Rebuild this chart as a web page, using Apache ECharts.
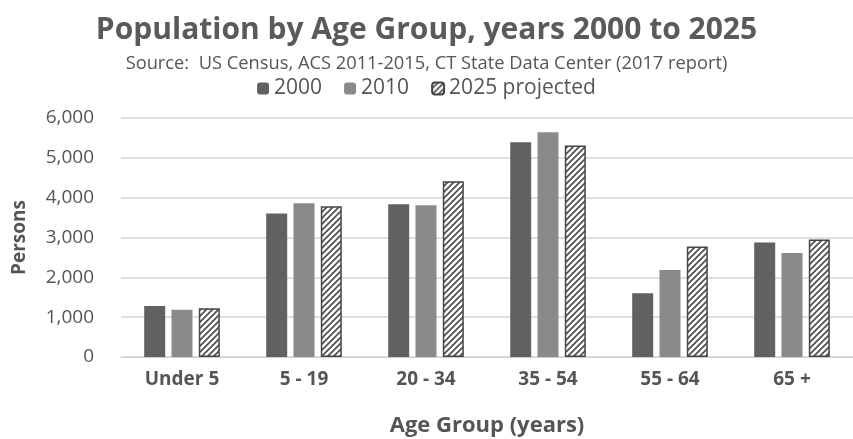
<!DOCTYPE html>
<html><head><meta charset="utf-8">
<script src="https://cdn.jsdelivr.net/npm/echarts@6/dist/echarts.min.js"></script>
<style>html,body{margin:0;padding:0;background:#fff}#c{width:853px;height:439px}</style>
</head><body><div id="c"></div>
<script>
const categories = ['Under 5', '5 - 19', '20 - 34', '35 - 54', '55 - 64', '65 +'];
const pop2000 = [1280, 3600, 3835, 5390, 1600, 2875];
const pop2010 = [1185, 3860, 3810, 5640, 2185, 2610];
const pop2025 = [1225, 3785, 4410, 5310, 2775, 2950];
const seriesNames = ['2000', '2010', '2025 projected'];

function hatch() {
  const c = document.createElement('canvas');
  c.width = 6; c.height = 6;
  const g = c.getContext('2d');
  g.fillStyle = '#fff'; g.fillRect(0, 0, 6, 6);
  g.strokeStyle = '#4a4a4a'; g.lineWidth = 1.6;
  g.beginPath();
  g.moveTo(-1, 7); g.lineTo(7, -1);
  g.moveTo(-4, 4); g.lineTo(4, -4);
  g.moveTo(2, 10); g.lineTo(10, 2);
  g.stroke();
  return { image: c, repeat: 'repeat' };
}
const font = '"Open Sans", Lato, sans-serif';
const chart = echarts.init(document.getElementById('c'), null, { renderer: 'canvas' });
chart.setOption({
  animation: false,
  textStyle: { fontFamily: font },
  title: [{
    text: 'Population by Age Group, years 2000 to 2025', left: 'center', top: 10,
    textStyle: { fontSize: 30, fontWeight: 'bold', color: '#5a5a5a', fontFamily: font }
  }, {
    text: 'Source:  US Census, ACS 2011-2015, CT State Data Center (2017 report)', left: 'center', top: 50,
    textStyle: { fontSize: 18.3, fontWeight: 'normal', color: '#555', fontFamily: font }
  }],
  legend: {
    top: 73, left: 'center', itemWidth: 12, itemHeight: 12, itemGap: 22,
    textStyle: { fontSize: 21, color: '#555', fontFamily: font },
    data: seriesNames
  },
  grid: { left: 121, right: 0, top: 118, bottom: 82, outerBoundsMode: 'none', containLabel: false },
  xAxis: {
    type: 'category', data: categories,
    axisLine: { lineStyle: { color: '#cfcfcf' } }, axisTick: { show: false },
    axisLabel: { fontSize: 19, fontWeight: 'bold', color: '#555', margin: 13, fontFamily: font },
    name: 'Age Group (years)', nameLocation: 'middle', nameGap: 58,
    nameTextStyle: { fontSize: 22, fontWeight: 'bold', color: '#555', fontFamily: font }
  },
  yAxis: {
    type: 'value', min: 0, max: 6000, interval: 1000,
    axisLine: { show: false }, axisTick: { show: false },
    splitLine: { lineStyle: { color: '#d4d4d4', width: 1.5 } },
    axisLabel: { fontSize: 19, color: '#555', margin: 27, fontFamily: font,
      formatter: v => v.toLocaleString('en-US') },
    name: 'Persons', nameLocation: 'middle', nameGap: 92,
    nameTextStyle: { fontSize: 19, fontWeight: 'bold', color: '#555', fontFamily: font }
  },
  series: [
    { name: seriesNames[0], type: 'bar', data: pop2000, barWidth: 21, barGap: '30%',
      itemStyle: { color: '#616161' } },
    { name: seriesNames[1], type: 'bar', data: pop2010, barWidth: 21, barGap: '30%',
      itemStyle: { color: '#8a8a8a' } },
    { name: seriesNames[2], type: 'bar', data: pop2025, barWidth: 21, barGap: '30%',
      itemStyle: { color: hatch(), borderColor: '#444', borderWidth: 1.5 } }
  ]
});
</script></body></html>
